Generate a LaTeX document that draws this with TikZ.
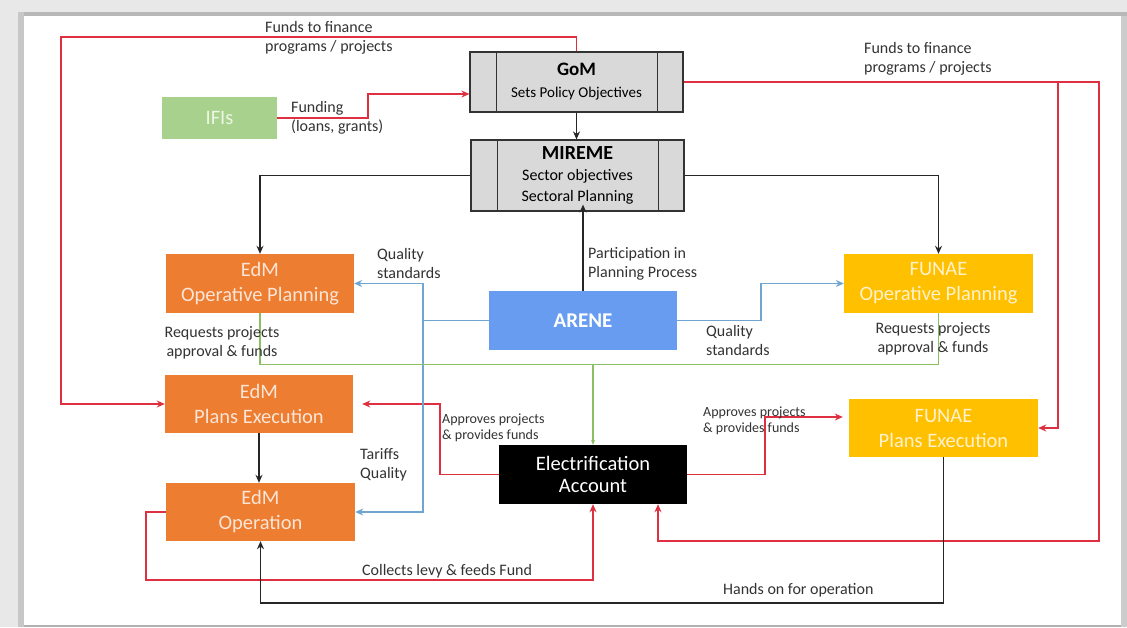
\documentclass[tikz,border=0pt]{standalone}
\usepackage{fontspec}
\setmainfont{Carlito}
\usetikzlibrary{arrows.meta,calc}
\definecolor{edmorange}{RGB}{237,125,49}
\definecolor{funyellow}{RGB}{255,192,0}
\definecolor{areneblue}{RGB}{104,156,240}
\definecolor{ifigreen}{RGB}{169,209,142}
\definecolor{boxgray}{RGB}{217,217,217}
\definecolor{redline}{RGB}{222,48,64}
\definecolor{blueline}{RGB}{110,165,210}
\definecolor{greenline}{RGB}{140,190,100}
\definecolor{paleorange}{RGB}{251,229,214}
\definecolor{paleyellow}{RGB}{255,242,204}
\definecolor{palegreen}{RGB}{236,246,228}
\tikzset{
  box/.style={inner sep=0pt, align=center, font=\fontsize{20.5}{25}\selectfont},
  edmbox/.style={box, fill=edmorange, text=paleorange},
  funbox/.style={box, fill=funyellow, text=paleyellow},
  procbox/.style={box, draw=black!80, line width=1.2pt, fill=boxgray, text=black},
  rd/.style={draw=redline, line width=1.6pt},
  bk/.style={draw=black!85, line width=1.4pt},
  bl/.style={draw=blueline, line width=1.3pt},
  gr/.style={draw=greenline, line width=1.3pt},
  tip/.style={-{Stealth[length=8pt,width=7pt]}},
  lbl/.style={inner sep=0pt, align=left, text=black!80, font=\fontsize{16}{19}\selectfont},
  slbl/.style={inner sep=0pt, align=left, text=black!80, font=\fontsize{14}{16}\selectfont}
}
\begin{document}
\begin{tikzpicture}[x=1pt,y=-1pt]
% frame
\fill[black!9] (0,0) rectangle (1127,627);
\fill[black!28] (18,12) rectangle (1127,16);
\fill[black!22] (18,12) rectangle (24,627);
\fill[black!30] (24,625) rectangle (1127,627);
\fill[black!20] (1121,16) rectangle (1127,627);
\fill[white] (24,16) rectangle (1121,625);
\useasboundingbox (0,0) rectangle (1127,627);

% nodes
\node[procbox, minimum width=213pt, minimum height=60pt] (GoM) at (576.5,82) {};
\draw[black!80, line width=1.2pt] ([xshift=27pt]GoM.north west) -- ([xshift=27pt]GoM.south west)
  ([xshift=-26pt]GoM.north east) -- ([xshift=-26pt]GoM.south east);
\node[inner sep=0pt, align=center, font=\fontsize{15}{22}\selectfont] (GoMt) at (GoM) {\textbf{\fontsize{19}{22}\selectfont GoM}\\Sets Policy Objectives};

\node[procbox, minimum width=213pt, minimum height=71pt] (MIR) at (577.5,175.5) {};
\draw[black!80, line width=1.2pt] ([xshift=27pt]MIR.north west) -- ([xshift=27pt]MIR.south west)
  ([xshift=-26pt]MIR.north east) -- ([xshift=-26pt]MIR.south east);
\node[inner sep=0pt, align=center, font=\fontsize{16}{21}\selectfont] (MIRt) at (MIR) {\textbf{\fontsize{20}{21}\selectfont MIREME}\\Sector objectives\\Sectoral Planning};

\node[box, fill=ifigreen, text=palegreen, minimum width=115pt, minimum height=42pt] (IFI) at (219.5,118) {IFIs};
\node[edmbox, minimum width=188pt, minimum height=59pt] (EOP) at (260,283.5) {EdM\\Operative Planning};
\node[box, fill=areneblue, text=white, minimum width=188pt, minimum height=59pt, font=\fontsize{21}{25}\selectfont] (ARE) at (583,320.5) {\textbf{ARENE}};
\node[funbox, minimum width=189pt, minimum height=59pt] (FOP) at (938.5,283.5) {FUNAE\\Operative Planning};
\node[edmbox, minimum width=188pt, minimum height=58pt] (EPE) at (259,404) {EdM\\Plans Execution};
\node[funbox, minimum width=189pt, minimum height=58pt] (FPE) at (943.5,428) {FUNAE\\Plans Execution};
\node[box, fill=black, text=white, minimum width=188pt, minimum height=59pt, font=\fontsize{20.5}{22}\selectfont] (EA) at (593,474.5) {Electrification\\Account};
\node[edmbox, minimum width=189pt, minimum height=58pt] (EOPR) at (260.5,512) {EdM\\Operation};

% coordinates
\coordinate (rtop) at (61,37);
\coordinate (ifik) at (368,94);
\coordinate (bq) at (423,320.5);
\coordinate (bq2) at (761,320.5);
\coordinate (gl) at (600,364.5);
\coordinate (rl) at (440,404);
\coordinate (rr) at (765,417);
\coordinate (rbr) at (1099,541);
\coordinate (rbranch) at (1058,82);
\coordinate (rlev) at (146,580);
\coordinate (bkb) at (600,603);

% red connectors
\draw[rd, tip] (GoM.north) |- (rtop) |- (EPE.west);
\draw[rd, tip] (IFI.east) -| (ifik) -- ([yshift=-12pt]GoM.west);
\draw[rd, tip] (GoM.east) -| (rbr) -| ([xshift=65pt]EA.south);
\draw[rd, tip] (rbranch) |- (FPE.east);
\draw[rd, tip, shorten >=9pt] (EA.west) -| (rl) -- (EPE.east);
\draw[rd, tip, shorten >=6pt] (EA.east) -| (rr) -- (rr -| FPE.west);
\draw[rd, tip] (EOPR.west) -| (rlev) -| (EA.south);

% black connectors
\draw[bk, tip] (GoM.south) -- (GoM.south |- MIR.north);
\draw[bk, tip] (MIR.west) -| (EOP.north);
\draw[bk, tip] (MIR.east) -| (FOP.north);
\draw[bk, tip] (ARE.north) -- ([yshift=7pt]ARE.north |- MIR.south);
\draw[bk, tip] (EPE.south) -- (EPE.south |- EOPR.north);
\draw[bk, tip] (FPE.south) |- (bkb) -| (EOPR.south);

% blue connectors
\draw[bl, tip] (ARE.west) -- (bq) |- (EOP.east);
\draw[bl, tip] (bq) |- (EOPR.east);
\draw[bl, tip] (ARE.east) -- (bq2) |- (FOP.west);

% green connectors
\draw[gr] (EOP.south) |- (gl) -| (FOP.south);
\draw[gr, -{Stealth[length=5pt,width=4pt]}] (EA.north |- gl) -- (EA.north);

% labels
\node[lbl, anchor=west] (l1) at (265,38) {Funds to finance\\programs / projects};
\node[lbl, anchor=west] (l2) at (864,58.5) {Funds to finance\\programs / projects};
\node[lbl, anchor=west] (l3) at (291,118) {Funding\\(loans, grants)};
\node[lbl, anchor=west] (l4) at (377,263.5) {Quality\\standards};
\node[lbl, anchor=west] (l5) at (588,264) {Participation in\\Planning Process};
\node[lbl, anchor=west] (l6) at (706,340.5) {Quality\\standards};
\node[lbl, align=center] (l7) at (222,342.5) {Requests projects\\approval \& funds};
\node[lbl, align=center] (l8) at (933,339) {Requests projects\\approval \& funds};
\node[slbl, anchor=west] (l9) at (442,428) {Approves projects\\\& provides funds};
\node[slbl, anchor=west] (l10) at (703,421) {Approves projects\\\& provides funds};
\node[lbl, anchor=west] (l11) at (360,464.5) {Tariffs\\Quality};
\node[lbl, anchor=west] (l12) at (362,571) {Collects levy \& feeds Fund};
\node[lbl, anchor=west] (l13) at (723,590) {Hands on for operation};
\end{tikzpicture}
\end{document}
